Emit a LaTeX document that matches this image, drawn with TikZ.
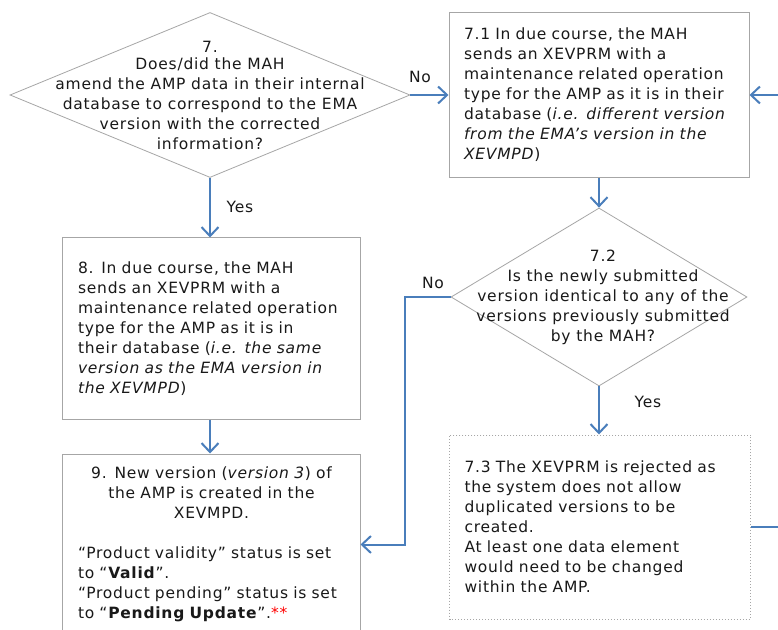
\documentclass[tikz,border=0pt]{standalone}
\usepackage{fontspec}
\setmainfont{DejaVu Sans}[LetterSpace=5]
\usetikzlibrary{shapes.geometric,arrows.meta}
\definecolor{flowblue}{HTML}{4A7EBB}
\definecolor{boxgray}{HTML}{A6A6A6}
\definecolor{astred}{HTML}{FF0000}
\begin{document}
\begin{tikzpicture}[x=1bp,y=-1bp,
  txt/.style={font=\fontsize{15.5bp}{20bp}\selectfont, text=black!90},
  procbox/.style={txt, draw=boxgray, line width=1bp, rectangle, inner sep=0pt, align=left},
  decision/.style={draw=boxgray, line width=0.8bp, shape=diamond, inner sep=0pt},
  flow/.style={draw=flowblue, line width=2bp, -{Straight Barb[length=9bp,width=17bp,line width=2bp]}},
  flowplain/.style={draw=flowblue, line width=2bp},
  lbl/.style={txt, inner sep=0pt}]
\useasboundingbox (0,0) rectangle (778,630);
\clip (0,0) rectangle (778,630);
\fill[white] (0,0) rectangle (778,630);

% Decision 7
\node[decision, minimum width=400bp, minimum height=165bp] (d7) at (210,95) {};
\node[txt, align=center, inner sep=0pt] (d7t) at (210,95)
  {7.\\[-3bp]Does/did the MAH\\amend the AMP data in their internal\\database to correspond to the EMA\\version with the corrected\\information?};

% Box 7.1
\node[procbox, minimum width=300bp, minimum height=164bp, text width=270bp] (b71) at (599,95)
  {7.1 In due course, the MAH\\sends an XEVPRM with a\\maintenance related operation\\type for the AMP as it is in their\\database (\textit{i.e. different version}\\\textit{from the EMA’s version in the}\\\textit{XEVMPD})};

% Decision 7.2
\node[decision, minimum width=296bp, minimum height=178bp] (d72) at (599,297) {};
\node[txt, align=center, inner sep=0pt] (d72t) at (603,297)
  {7.2\\Is the newly submitted\\version identical to any of the\\versions previously submitted\\by the MAH?};

% Box 8
\node[procbox, minimum width=297bp, minimum height=181bp, text width=267bp] (b8) at (211.5,328.5)
  {8. In due course, the MAH\\sends an XEVPRM with a\\maintenance related operation\\type for the AMP as it is in\\their database (\textit{i.e. the same}\\\textit{version as the EMA version in}\\\textit{the XEVMPD})};

% Box 9
\node[procbox, minimum width=297bp, minimum height=181bp, text width=267bp] (b9) at (211.5,544.5)
  {{\centering 9. New version (\textit{version 3}) of\\the AMP is created in the\\XEVMPD.\par}
   \mbox{}\\
   “Product validity” status is set\\to “\textbf{Valid}”.\\“Product pending” status is set\\to “\textbf{Pending Update}”.\textcolor{astred}{**}};

% Box 7.3
\node[procbox, dotted, minimum width=301bp, minimum height=184bp, text width=271bp] (b73) at (600,527)
  {7.3 The XEVPRM is rejected as\\the system does not allow\\duplicated versions to be\\created.\\At least one data element\\would need to be changed\\within the AMP.};

% Free ends at the right edge
\coordinate (inR) at (778,95);
\coordinate (outR) at (778,527);

% Connectors
\draw[flow] (d7.east) -- (b71.west);
\node[lbl] (lno1) at (420,77) {No};
\draw[flow] (inR) -- (b71.east);
\draw[flow] (b71.south) -- (d72.north);
\draw[flow] (d7.south) -- (d7.south |- b8.north);
\node[lbl] (lyes1) at (240,207) {Yes};
\draw[flow] (d7.south |- b8.south) -- (d7.south |- b9.north);
\draw[flow] (d72.west) -- ++(-46,0) |- (b9.east);
\node[lbl] (lno2) at (433,283) {No};
\draw[flow] (d72.south) -- (d72.south |- b73.north);
\node[lbl] (lyes2) at (648,402) {Yes};
\draw[flowplain] (b73.east) -- (outR);
\end{tikzpicture}
\end{document}
